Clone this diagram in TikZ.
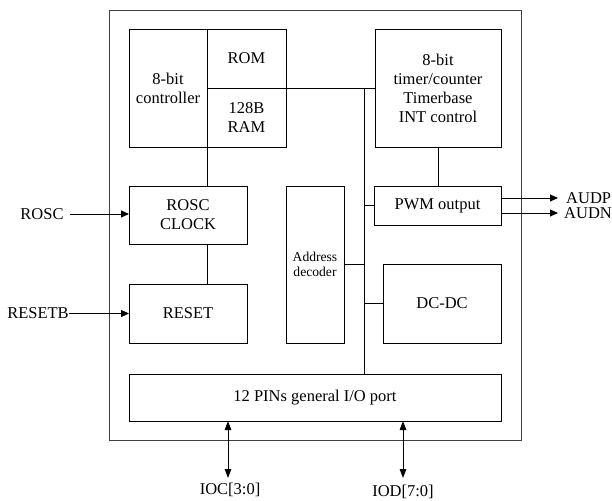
\documentclass[tikz,border=0pt]{standalone}
\usepackage{fontspec}
\setmainfont{Liberation Serif}
\usetikzlibrary{arrows.meta}
\begin{document}
\begin{tikzpicture}[x=1pt,y=-1pt,
  blk/.style={draw,line width=0.9pt,rectangle,inner sep=0pt,outer sep=0pt,align=center,
    font=\fontsize{16.5}{19}\selectfont},
  lbl/.style={inner sep=0pt,font=\fontsize{16.5}{19}\selectfont},
  wire/.style={line width=0.9pt},
  arr/.style={line width=0.9pt,-{Triangle[length=8pt,width=7pt]}},
  biarr/.style={line width=0.9pt,{Triangle[length=9pt,width=6.5pt]}-{Triangle[length=9pt,width=6.5pt]}}]
\useasboundingbox (0,0) rectangle (612,500);

% chip outline
\draw[line width=0.9pt,black!75] (109,10) rectangle (521,440);

% core blocks
\node[blk,minimum width=78pt,minimum height=118pt] (ctrl) at (168,88) {8-bit\\controller};
\node[blk,minimum width=79pt,minimum height=59pt] (rom) at (246.5,58.5) {ROM};
\node[blk,minimum width=79pt,minimum height=59pt] (ram) at (246.5,117.5) {128B\\RAM};
\node[blk,minimum width=126pt,minimum height=118pt] (timer) at (438,88) {8-bit\\timer/counter\\Timerbase\\INT control};
\node[blk,minimum width=118pt,minimum height=58pt] (rosc) at (188,215) {ROSC\\CLOCK};
\node[blk,minimum width=118pt,minimum height=59pt] (reset) at (188,313.5) {RESET};
\node[blk,minimum width=58pt,minimum height=157pt,font=\fontsize{13.6}{15.3}\selectfont] (addr) at (315,264.5) {Address\\decoder};
\node[blk,minimum width=127pt,minimum height=39pt] (pwm) at (437.5,205.5) {PWM output};
\node[blk,minimum width=118pt,minimum height=79pt] (dcdc) at (442,303.5) {DC-DC};
\node[blk,minimum width=372pt,minimum height=47pt] (io) at (315,397.5) {12 PINs general I/O port};

% external pins
\node[lbl] (roscin) at (42,214) {ROSC};
\node[lbl] (resetin) at (38,313.5) {RESETB};
\node[lbl,anchor=west] (audp) at (566,198) {AUDP};
\node[lbl,anchor=west] (audn) at (564,213) {AUDN};
\node[lbl,anchor=base] (ioc) at (230,494) {IOC[3:0]};
\node[lbl,anchor=base] (iod) at (403,496) {IOD[7:0]};

% internal bus
\coordinate (bustop) at (364,88);
\draw[wire] (ram.north east) -- (timer.west);
\draw[wire] (bustop) -- (bustop |- io.north);
\draw[wire] (pwm.west -| bustop) -- (pwm.west);
\draw[wire] (addr.east) -- (addr.east -| bustop);
\draw[wire] (dcdc.west -| bustop) -- (dcdc.west);
\draw[wire] (timer.south) -- (timer.south |- pwm.north);
\draw[wire] (ctrl.south east) -- (ctrl.south east |- rosc.north);
\draw[wire] (rosc.south -| ctrl.south east) -- (reset.north -| ctrl.south east);

% pin connections
\draw[arr] ([xshift=6pt]roscin.east) -- (rosc.west |- roscin.east);
\draw[arr] (resetin.east) -- (reset.west);
\draw[arr] (pwm.east |- audp.west) -- ([xshift=-8pt]audp.west);
\draw[arr] (pwm.east |- audn.west) -- ([xshift=-6pt]audn.west);
\draw[biarr] (io.south -| 228,0) -- (228,478);
\draw[biarr] (io.south -| iod.north) -- (403,478);
\end{tikzpicture}
\end{document}
